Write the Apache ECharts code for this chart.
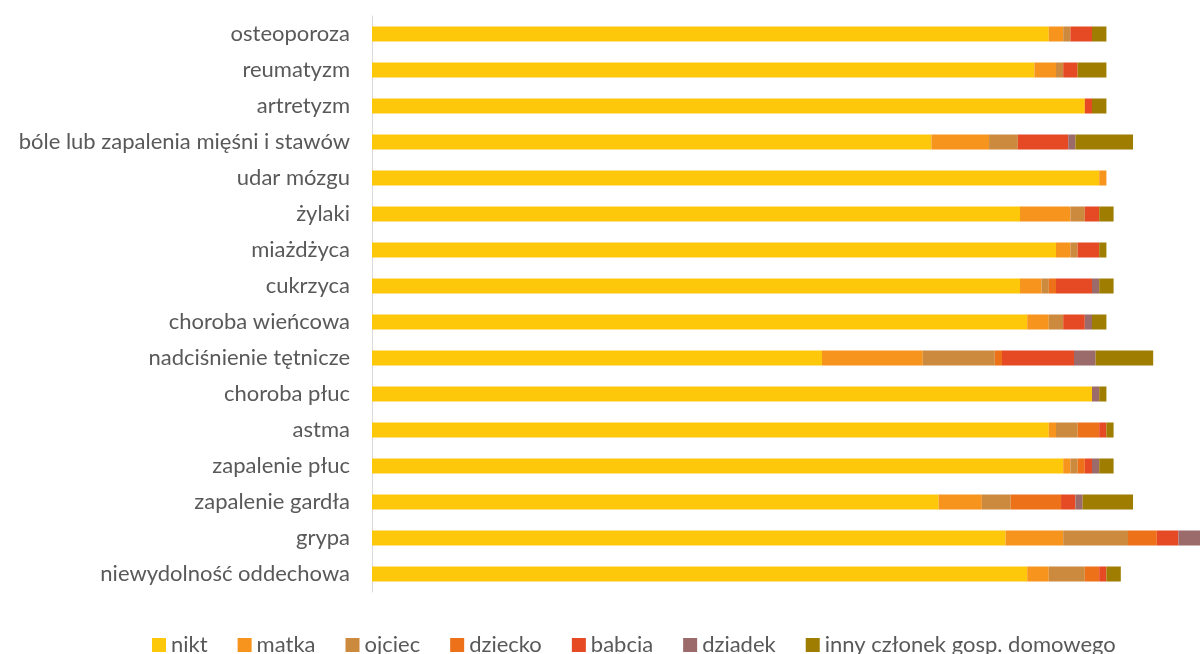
<!DOCTYPE html>
<html>
<head>
<meta charset="utf-8">
<script src="https://cdn.jsdelivr.net/npm/echarts@6/dist/echarts.min.js"></script>
<style>
  html, body { margin: 0; padding: 0; background: #fff; }
  #chart { width: 1200px; height: 654px; }
</style>
</head>
<body>
<div id="chart"></div>
<script>
const categories = [
  'osteoporoza', 'reumatyzm', 'artretyzm', 'bóle lub zapalenia mięśni i stawów',
  'udar mózgu', 'żylaki', 'miażdżyca', 'cukrzyca', 'choroba wieńcowa',
  'nadciśnienie tętnicze', 'choroba płuc', 'astma', 'zapalenie płuc',
  'zapalenie gardła', 'grypa', 'niewydolność oddechowa'
];
const seriesNames = ['nikt', 'matka', 'ojciec', 'dziecko', 'babcia', 'dziadek', 'inny członek gosp. domowego'];

const nikt    = [94, 92, 99, 77.7, 101, 90, 95, 90, 91, 62.5, 100, 94, 96, 78.7, 88, 91];
const matka   = [2, 3, 0, 8, 1, 7, 2, 3, 3, 14, 0, 1, 1, 6, 8, 3];
const ojciec  = [1, 1, 0, 4, 0, 2, 1, 1, 2, 10, 0, 3, 1, 4, 9, 5];
const dziecko = [0, 0, 0, 0, 0, 0, 0, 1, 0, 1, 0, 3, 1, 7, 4, 2];
const babcia  = [3, 2, 1, 7, 0, 2, 3, 5, 3, 10, 0, 1, 1, 2, 3, 1];
const dziadek = [0, 0, 0, 1, 0, 0, 0, 1, 1, 3, 1, 0, 1, 1, 3, 0];
const inny    = [2, 4, 2, 8, 0, 2, 1, 2, 2, 8, 1, 1, 2, 7, 4, 2];

const values = [nikt, matka, ojciec, dziecko, babcia, dziadek, inny];
const colors = ['#FEC80A', '#F7941E', '#CC8A3F', '#EC7118', '#E64A24', '#9B6A6A', '#9E7D00'];

const font = 'Lato, "Open Sans", sans-serif';

const chart = echarts.init(document.getElementById('chart'));

const option = {
  animation: false,
  color: colors,
  legend: {
    data: seriesNames,
    left: 147,
    top: 629,
    itemWidth: 14,
    itemHeight: 14,
    itemGap: 30,
    icon: 'rect',
    textStyle: { fontFamily: font, fontSize: 22, color: '#595959' },
  },
  grid: {
    left: 372,
    right: 0,
    top: 16,
    bottom: 62,
    containLabel: false,
  },
  xAxis: {
    type: 'value',
    min: 0,
    max: 115,
    show: false,
  },
  yAxis: {
    type: 'category',
    data: categories,
    inverse: true,
    axisTick: { show: false },
    axisLine: { show: true, lineStyle: { color: '#D9D9D9', width: 1 } },
    axisLabel: { fontFamily: font, fontSize: 22, color: '#595959', margin: 22 },
  },
  series: seriesNames.map((name, i) => ({
    name: name,
    type: 'bar',
    stack: 'total',
    barWidth: 15,
    data: values[i],
    itemStyle: { color: colors[i] },
  })),
};

chart.setOption(option);
</script>
</body>
</html>
